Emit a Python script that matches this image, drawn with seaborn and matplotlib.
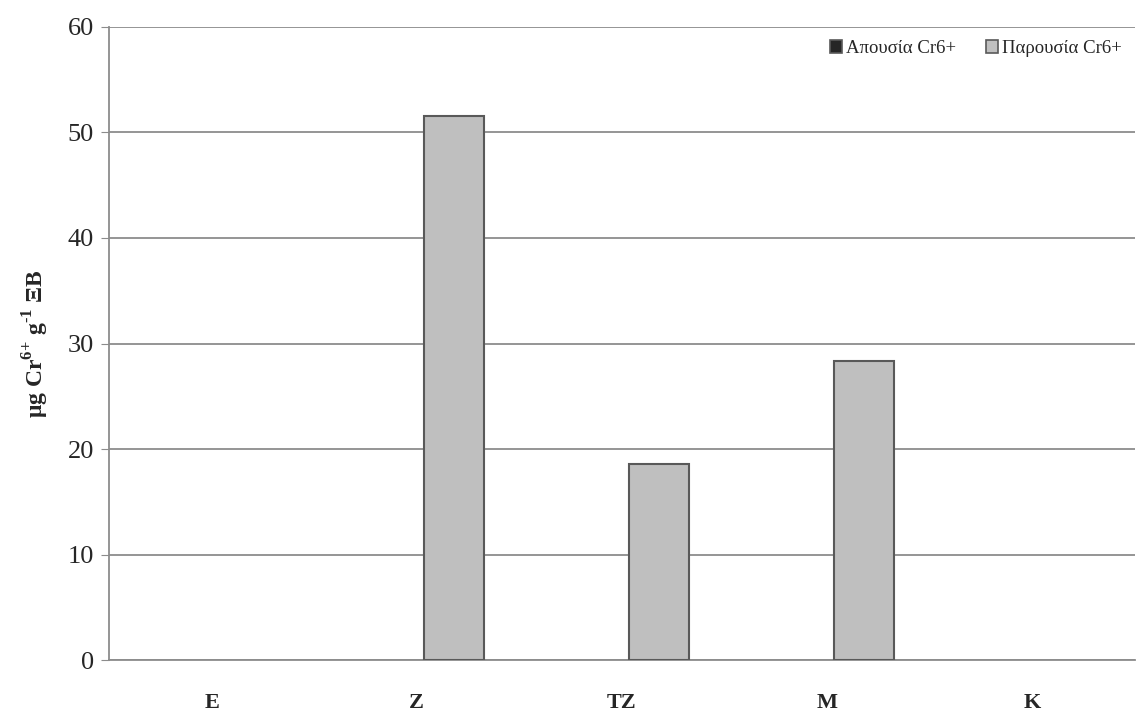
import pandas as pd
import matplotlib
matplotlib.use("Agg")
import matplotlib.pyplot as plt
import seaborn as sns

categories = ["E", "Z", "TZ", "M", "K"]
absence = [0, 0, 0, 0, 0]
presence = [0, 51.6, 18.6, 28.3, 0]
series_names = ["Απουσία Cr6+", "Παρουσία Cr6+"]

data = pd.DataFrame({
    "cat": categories * 2,
    "val": absence + presence,
    "series": [series_names[0]] * 5 + [series_names[1]] * 5,
})

sns.set_style("white")
plt.rcParams["font.family"] = ["Liberation Serif", "DejaVu Serif"]
plt.rcParams["mathtext.fontset"] = "custom"
plt.rcParams["mathtext.rm"] = "Liberation Serif"
plt.rcParams["mathtext.bf"] = "Liberation Serif:bold"

fig = plt.figure(figsize=(11.37, 7.16), dpi=100)
ax = fig.add_axes([0.0959, 0.0782, 0.902, 0.8841])

sns.barplot(data=data, x="cat", y="val", hue="series", order=categories,
            hue_order=series_names, palette=["#262626", "#bfbfbf"],
            width=0.72, gap=0.19, edgecolor="#595959", linewidth=1.5,
            errorbar=None, ax=ax, zorder=3)

ax.set_ylim(0, 60)
ax.set_yticks(range(0, 61, 10))
ax.yaxis.grid(True, color="#8c8c8c", linewidth=1.3)
ax.set_axisbelow(True)
for side in ["top", "right"]:
    ax.spines[side].set_visible(False)
ax.spines["left"].set_color("#8c8c8c")
ax.spines["bottom"].set_color("#8c8c8c")
ax.spines["left"].set_linewidth(1.3)
ax.spines["bottom"].set_linewidth(1.3)
ax.tick_params(axis="y", left=True, length=6, color="#8c8c8c", labelsize=19, pad=5)
ax.tick_params(axis="x", bottom=False, labelsize=16, pad=20)
for lbl in ax.get_xticklabels():
    lbl.set_fontweight("bold")

ax.set_xlabel("")
ax.set_ylabel("μg Cr$^{\\mathbf{6{+}}}$ g$^{\\mathbf{\u20101}}$ ΞΒ", fontsize=17,
              fontweight="bold", labelpad=12)

leg = ax.legend(loc="upper right", bbox_to_anchor=(1.0, 1.0), frameon=False,
                fontsize=13.5, ncol=2, handlelength=0.65, handleheight=0.65,
                handletextpad=0.2, columnspacing=1.6, borderaxespad=0.3)
for h in leg.legend_handles:
    h.set_edgecolor("#595959")
    h.set_linewidth(1.2)

# zero-height bars are not drawn in the original
for bar in ax.patches:
    if bar.get_height() == 0:
        bar.set_linewidth(0)

fig.savefig("out.png", dpi=100)
